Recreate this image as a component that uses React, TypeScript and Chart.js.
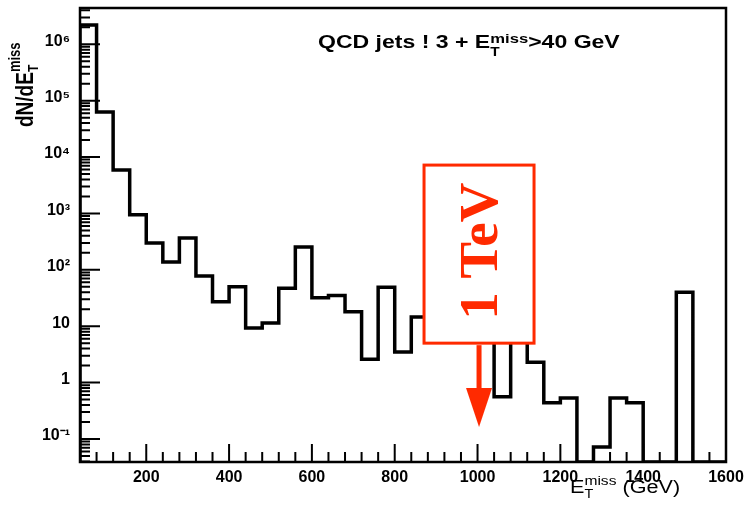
import React, { useEffect, useRef } from "react";
import { Chart, registerables } from "chart.js";

Chart.register(...registerables);

// ---- data ----
const X_MIN = 40;
const X_MAX = 1600;
const BIN_WIDTH = 40;
const Y_MIN = 0.039;
const Y_MAX = 4.4e6;

const binLowEdges = [
  40, 80, 120, 160, 200, 240, 280, 320, 360, 400,
  440, 480, 520, 560, 600, 640, 680, 720, 760, 800,
  840, 880, 920, 960, 1000, 1040, 1080, 1120, 1160, 1200,
  1240, 1280, 1320, 1360, 1400, 1440, 1480, 1520, 1560,
];
const counts = [
  2.2e6, 6.3e4, 5.9e3, 950, 300, 138, 365, 78, 27, 50,
  9.3, 11.4, 47, 253, 32, 35, 18, 2.6, 49, 3.5,
  14.6, 20, 9, 25, 8, 0.56, 7, 2.3, 0.44, 0.53,
  0, 0.072, 0.53, 0.44, 0, 0, 40, 0, 0,
];

const xTickValues = [200, 400, 600, 800, 1000, 1200, 1400, 1600];
const xTickLabels = ["200", "400", "600", "800", "1000", "1200", "1400", "1600"];
const yTickValues = [0.1, 1, 10, 100, 1e3, 1e4, 1e5, 1e6];
const yTickLabels = ["10⁻¹", "1", "10", "10²", "10³", "10⁴", "10⁵", "10⁶"];

const markerEnergy = 1000; // GeV
const markerLabel = "1 TeV";
const titleText = "QCD jets ! 3 + E";
const titleTail = ">40 GeV";

const RED = "#ff2a00";
const SANS = '"Liberation Sans", Arial, Helvetica, sans-serif';
const SERIF = '"Liberation Serif", "Times New Roman", serif';

type Run = { t: string; size: number; dy: number; adv?: boolean };

function drawRuns(ctx: CanvasRenderingContext2D, runs: Run[], weight: string) {
  let x = 0;
  for (const r of runs) {
    ctx.font = `${weight} ${r.size}px ${SANS}`;
    ctx.fillText(r.t, x, r.dy);
    if (r.adv !== false) x += ctx.measureText(r.t).width;
  }
}

const rootStyle = {
  id: "rootStyle",
  afterDatasetsDraw(chart: any) {
    const { ctx, chartArea: a, scales } = chart;
    const xs = scales.x;
    const ys = scales.y;
    ctx.save();
    ctx.strokeStyle = "#000";
    ctx.fillStyle = "#000";

    // frame
    ctx.lineWidth = 2.5;
    ctx.strokeRect(a.left, a.top, a.right - a.left, a.bottom - a.top);

    // x ticks (inside)
    ctx.lineWidth = 2;
    ctx.beginPath();
    for (let v = X_MIN + BIN_WIDTH; v < X_MAX; v += BIN_WIDTH) {
      const px = xs.getPixelForValue(v);
      const len = v % 200 === 0 ? 18 : 10;
      ctx.moveTo(px, a.bottom);
      ctx.lineTo(px, a.bottom - len);
    }
    // y ticks (inside)
    for (let e = -2; e <= 7; e++) {
      for (let m = 1; m <= 9; m++) {
        const v = m * Math.pow(10, e);
        if (v < Y_MIN || v > Y_MAX) continue;
        const py = ys.getPixelForValue(v);
        const len = m === 1 ? 20 : 10;
        ctx.moveTo(a.left, py);
        ctx.lineTo(a.left + len, py);
      }
    }
    ctx.stroke();

    // title
    ctx.save();
    ctx.translate(318, 48);
    ctx.scale(1.28, 1);
    ctx.textBaseline = "alphabetic";
    drawRuns(
      ctx,
      [
        { t: titleText, size: 18, dy: 0 },
        { t: "T", size: 12, dy: 8, adv: false },
        { t: "miss", size: 13, dy: -5 },
        { t: titleTail, size: 18, dy: 0 },
      ],
      "bold"
    );
    ctx.restore();

    // x axis title
    ctx.save();
    ctx.translate(570, 493);
    ctx.scale(1.2, 1);
    drawRuns(
      ctx,
      [
        { t: "E", size: 18, dy: 0 },
        { t: "T", size: 12, dy: 5, adv: false },
        { t: "miss", size: 13, dy: -8 },
        { t: " (GeV)", size: 18, dy: 0 },
      ],
      "normal"
    );
    ctx.restore();

    // y axis title
    ctx.save();
    ctx.translate(33, 127);
    ctx.rotate(-Math.PI / 2);
    ctx.scale(1, 1.28);
    drawRuns(
      ctx,
      [
        { t: "dN/dE", size: 19, dy: 0 },
        { t: "T", size: 12, dy: 4, adv: false },
        { t: "miss", size: 13, dy: -10 },
      ],
      "bold"
    );
    ctx.restore();

    // 1 TeV annotation
    const cx = xs.getPixelForValue(markerEnergy) + 1.5;
    const boxTop = ys.getPixelForValue(7200);
    const boxBottom = ys.getPixelForValue(5);
    const tipY = ys.getPixelForValue(0.163);
    const halfW = 55;
    ctx.fillStyle = "#fff";
    ctx.fillRect(cx - halfW, boxTop, 2 * halfW, boxBottom - boxTop);
    ctx.strokeStyle = RED;
    ctx.lineWidth = 3;
    ctx.strokeRect(cx - halfW, boxTop, 2 * halfW, boxBottom - boxTop);

    // arrow
    ctx.fillStyle = RED;
    const headH = 39;
    ctx.fillRect(cx - 2.5, boxBottom + 2, 5, tipY - headH - boxBottom - 2 + 1);
    ctx.beginPath();
    ctx.moveTo(cx - 13, tipY - headH);
    ctx.lineTo(cx + 13, tipY - headH);
    ctx.lineTo(cx, tipY);
    ctx.closePath();
    ctx.fill();

    // rotated label
    ctx.save();
    ctx.translate(cx + 18, (boxTop + boxBottom) / 2 - 3);
    ctx.rotate(-Math.PI / 2);
    ctx.font = `bold 55px ${SERIF}`;
    ctx.textAlign = "center";
    ctx.textBaseline = "alphabetic";
    ctx.fillText(markerLabel, 0, 0);
    ctx.restore();

    ctx.restore();
  },
};

export default function App() {
  const canvasRef = useRef<HTMLCanvasElement | null>(null);

  useEffect(() => {
    if (!canvasRef.current) return;
    const pts: { x: number; y: number }[] = [{ x: X_MIN, y: Y_MIN }];
    binLowEdges.forEach((e, i) => {
      pts.push({ x: e, y: counts[i] > 0 ? counts[i] : Y_MIN });
    });
    const lastIdx = binLowEdges.length - 1;
    const lastVal = counts[lastIdx] > 0 ? counts[lastIdx] : Y_MIN;
    pts.push({ x: binLowEdges[lastIdx] + BIN_WIDTH, y: lastVal });
    pts.push({ x: X_MAX, y: Y_MIN });

    const tickFont = { family: SANS, size: 16, weight: "bold" as const };

    const chart = new Chart(canvasRef.current, {
      type: "line",
      data: {
        datasets: [
          {
            data: pts,
            stepped: "before",
            borderColor: "#000",
            borderWidth: 3.5,
            pointRadius: 0,
            fill: false,
            tension: 0,
          },
        ],
      },
      options: {
        animation: false,
        responsive: true,
        maintainAspectRatio: false,
        layout: { padding: { left: 0, right: 21, top: 8, bottom: 0 } },
        plugins: {
          legend: { display: false },
          tooltip: { enabled: false },
          title: { display: false },
        },
        scales: {
          x: {
            type: "linear",
            min: X_MIN,
            max: X_MAX,
            grid: { display: false, drawTicks: false },
            border: { display: false },
            afterBuildTicks: (s: any) => {
              s.ticks = xTickValues.map((v) => ({ value: v }));
            },
            afterFit: (s: any) => {
              s.height = 47;
              s.paddingLeft = 0;
              s.paddingRight = 0;
            },
            ticks: {
              padding: 6,
              color: "#000",
              font: tickFont,
              maxRotation: 0,
              autoSkip: false,
              callback: (v: any) => {
                const i = xTickValues.indexOf(Number(v));
                return i >= 0 ? xTickLabels[i] : "";
              },
            },
          },
          y: {
            type: "logarithmic",
            min: Y_MIN,
            max: Y_MAX,
            grid: { display: false, drawTicks: false },
            border: { display: false },
            afterBuildTicks: (s: any) => {
              s.ticks = yTickValues.map((v) => ({ value: v }));
            },
            afterFit: (s: any) => {
              s.width = 80;
              s.paddingTop = 0;
              s.paddingBottom = 0;
            },
            ticks: {
              padding: 10,
              labelOffset: -3,
              color: "#000",
              font: tickFont,
              autoSkip: false,
              callback: (v: any) => {
                const i = yTickValues.indexOf(Number(v));
                return i >= 0 ? yTickLabels[i] : "";
              },
            },
          },
        },
      },
      plugins: [rootStyle],
    } as any);

    return () => chart.destroy();
  }, []);

  return (
    <div
      style={{
        position: "fixed",
        left: 0,
        top: 0,
        width: 747,
        height: 509,
        background: "#fff",
      }}
    >
      <canvas ref={canvasRef} />
    </div>
  );
}
